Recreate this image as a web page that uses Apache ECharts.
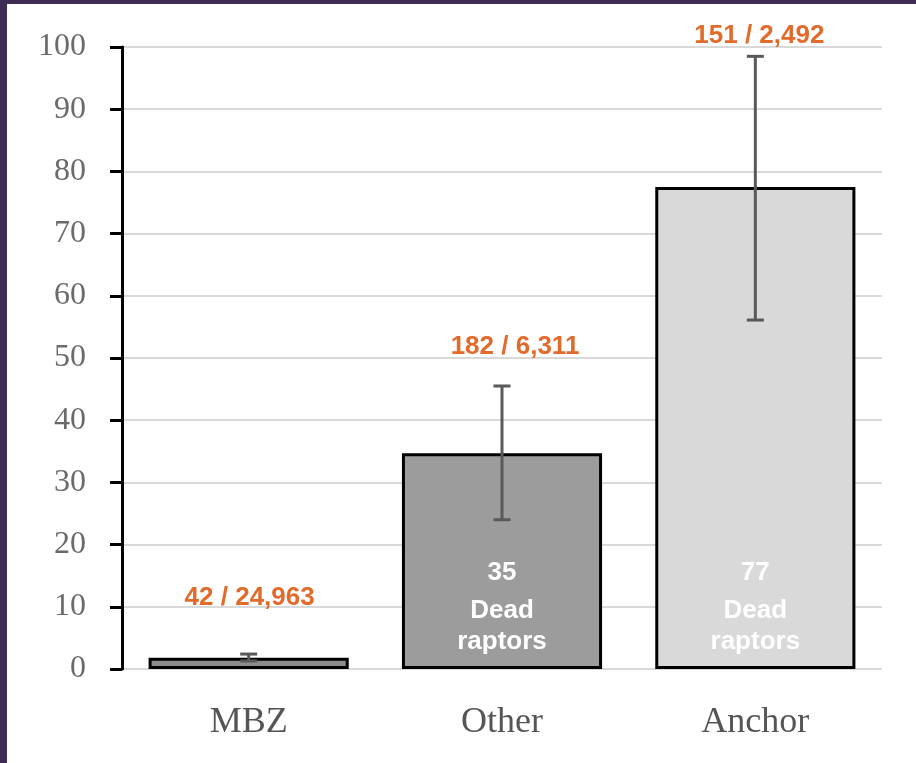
<!DOCTYPE html>
<html><head><meta charset="utf-8">
<script src="https://cdn.jsdelivr.net/npm/echarts@6/dist/echarts.min.js"></script>
<style>
html,body{margin:0;padding:0;background:#3e2c54;width:916px;height:763px;overflow:hidden}
#c{position:absolute;left:7px;top:4px;width:909px;height:759px;background:#fff}
</style>
</head><body><div id="c"></div>
<script>
// ---- data ----
const categories = ['MBZ', 'Other', 'Anchor'];
const values = [1.8, 34.7, 77.5];
const errLow = [1.3, 24.0, 56.1];
const errHigh = [2.4, 45.5, 98.5];
const countLabels = ['42 / 24,963', '182 / 6,311', '151 / 2,492'];
const innerCounts = ['', '35', '77'];
const yMin = 0, yMax = 100, yStep = 10;

// ---- styles ----
const barColors = ['#8c8c8c', '#9c9c9c', '#d9d9d9'];
const labelGapPx = [56, 39, 21];
const labelShiftPx = [1, 13, 4];
const orange = '#e26b2b';

const chart = echarts.init(document.getElementById('c'), null, {renderer: 'canvas'});

const barData = values.map((v, i) => ({
  value: v,
  itemStyle: {color: barColors[i], borderColor: '#000', borderWidth: 3},
  label: {show: innerCounts[i] !== ''}
}));

const errData = categories.map((c, i) => [i, errLow[i], errHigh[i]]);

chart.setOption({
  animation: false,
  grid: {left: 115, right: 34, top: 43, bottom: 94, outerBoundsMode: 'none', containLabel: false},
  xAxis: {
    type: 'category',
    data: categories,
    axisLine: {show: false},
    axisTick: {show: false},
    axisLabel: {
      color: '#555', fontFamily: 'Liberation Serif', fontSize: 36, margin: 36
    }
  },
  yAxis: {
    type: 'value',
    min: yMin, max: yMax, interval: yStep,
    axisLine: {show: true, lineStyle: {color: '#000', width: 3}},
    axisTick: {show: true, inside: false, length: 12, lineStyle: {color: '#000', width: 3}},
    axisLabel: {color: '#6a6a6a', fontFamily: 'Liberation Serif', fontSize: 32, margin: 36},
    splitLine: {show: true, lineStyle: {color: '#d9d9d9', width: 2}}
  },
  series: [
    {
      type: 'bar',
      data: barData,
      barWidth: '79%',
      label: {
        show: false,
        position: 'insideBottom',
        distance: 12,
        formatter: p => '{a|' + innerCounts[p.dataIndex] + '}\n{b|Dead}\n{b|raptors}',
        rich: {
          a: {color: '#fff', fontFamily: 'Liberation Sans', fontWeight: 'bold', fontSize: 26, lineHeight: 44, align: 'center'},
          b: {color: '#fff', fontFamily: 'Liberation Sans', fontWeight: 'bold', fontSize: 26, lineHeight: 31, align: 'center'}
        }
      },
      z: 2
    },
    {
      type: 'custom',
      clip: false,
      z: 5,
      data: errData,
      renderItem: function (params, api) {
        const i = api.value(0);
        const lo = api.coord([i, api.value(1)]);
        const hi = api.coord([i, api.value(2)]);
        const half = 8.5;
        const ls = {stroke: '#595959', lineWidth: 3};
        return {
          type: 'group',
          children: [
            {type: 'line', shape: {x1: lo[0], y1: lo[1], x2: hi[0], y2: hi[1]}, style: ls},
            {type: 'line', shape: {x1: lo[0] - half, y1: lo[1], x2: lo[0] + half, y2: lo[1]}, style: ls},
            {type: 'line', shape: {x1: hi[0] - half, y1: hi[1], x2: hi[0] + half, y2: hi[1]}, style: ls},
            {type: 'text', style: {
              text: countLabels[params.dataIndex],
              x: hi[0] + labelShiftPx[params.dataIndex],
              y: hi[1] - labelGapPx[params.dataIndex],
              align: 'center', verticalAlign: 'middle',
              fill: orange,
              font: 'bold 26px "Liberation Sans", Arial, sans-serif'
            }}
          ]
        };
      }
    }
  ]
});
</script>
</body></html>
